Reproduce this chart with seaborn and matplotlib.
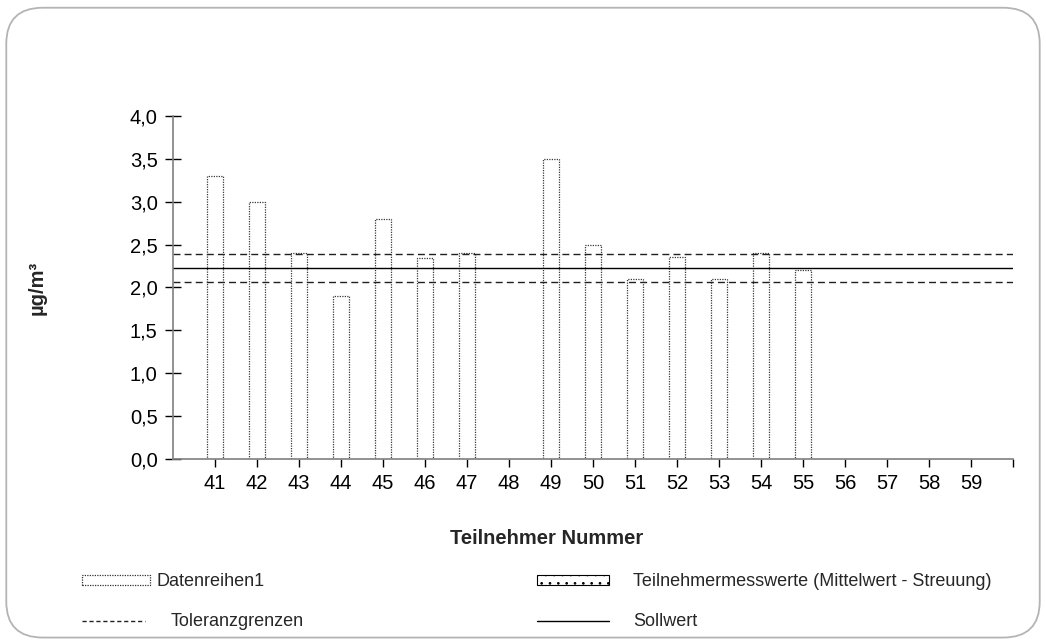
import matplotlib
matplotlib.use("Agg")
import matplotlib.pyplot as plt
from matplotlib.patches import FancyBboxPatch, Patch
from matplotlib.lines import Line2D
import numpy as np
import pandas as pd
import seaborn as sns

# Participant numbers and measured values (µg/m³); NaN = no value reported
participants = [str(n) for n in range(41, 60)]
values = [3.3, 3.0, 2.4, 1.9, 2.8, 2.34, 2.4, np.nan, 3.5, 2.5,
          2.1, 2.35, 2.1, 2.4, 2.2, np.nan, np.nan, np.nan, np.nan]
target_value = 2.225
tolerance_low = 2.06
tolerance_high = 2.395
y_ticks = [0.0, 0.5, 1.0, 1.5, 2.0, 2.5, 3.0, 3.5, 4.0]
y_tick_labels = ["0,0", "0,5", "1,0", "1,5", "2,0", "2,5", "3,0", "3,5", "4,0"]

sns.set_theme(style="white")
plt.rcParams["font.family"] = ["Liberation Sans", "DejaVu Sans"]
plt.rcParams["hatch.linewidth"] = 0.7

df = pd.DataFrame({"Teilnehmer": participants, "Wert": values})

fig = plt.figure(figsize=(10.46, 6.44), dpi=100)
ax = fig.add_axes([0.1654, 0.2873, 0.8031, 0.5326])

sns.barplot(data=df, x="Teilnehmer", y="Wert", order=participants,
            color="white", edgecolor="#383838", linewidth=0.9,
            width=0.4, ax=ax)
for bar in ax.patches:
    bar.set_linestyle((0, (1, 1)))
    bar.set_facecolor("white")

ax.axhline(target_value, color="black", lw=1.0)
ax.axhline(tolerance_high, color="#202020", lw=1.0, ls=(0, (5, 3)))
ax.axhline(tolerance_low, color="#202020", lw=1.0, ls=(0, (5, 3)))

ax.set_xlim(-1, 19)
ax.set_ylim(0, 4.0)
ax.set_xticks(range(20))
ax.set_xticklabels(participants + [""])
ax.set_yticks(y_ticks)
ax.set_yticklabels(y_tick_labels)

for side in ("top", "right"):
    ax.spines[side].set_visible(False)
for side in ("left", "bottom"):
    ax.spines[side].set_color("#7f7f7f")
    ax.spines[side].set_linewidth(1.2)

ax.tick_params(axis="both", labelsize=14.5, colors="black", width=1.0,
               bottom=True, left=True)
ax.tick_params(axis="x", direction="out", length=6, pad=5)
ax.tick_params(axis="y", direction="inout", length=12, pad=5)
for t in ax.xaxis.get_ticklines() + ax.yaxis.get_ticklines():
    t.set_color("#303030")

ax.set_xlabel("Teilnehmer Nummer", fontsize=14.5, fontweight="bold")
ax.set_ylabel("µg/m³", fontsize=14.5, fontweight="bold")
ax.xaxis.set_label_coords(0.445, -0.205)
ax.yaxis.set_label_coords(-0.15, 0.5)

# Legend entries, each placed on its own grid spot
h_data = Patch(facecolor="white", edgecolor="#303030", linestyle=(0, (1, 1)), lw=0.9)
h_tol = Line2D([], [], color="#202020", lw=1.0, ls=(0, (3, 2)))
h_part = Patch(facecolor="white", edgecolor="black", hatch="..", lw=0.8)
h_soll = Line2D([], [], color="black", lw=1.0)

entries = [
    (h_data, "Datenreihen1", 0.0784, 0.0963, 3.75, 0.4),
    (h_tol, "Toleranzgrenzen", 0.0784, 0.0342, 3.5, 1.4),
    (h_part, "Teilnehmermesswerte (Mittelwert - Streuung)", 0.5134, 0.0963, 4.0, 1.3),
    (h_soll, "Sollwert", 0.5134, 0.0342, 4.0, 1.3),
]
for handle, label, x, y, hl, pad in entries:
    fig.legend([handle], [label], loc="center left", bbox_to_anchor=(x, y),
               frameon=False, fontsize=13, handlelength=hl, handleheight=0.5,
               handletextpad=pad, borderpad=0, borderaxespad=0)

# Rounded frame around the whole chart
frame = FancyBboxPatch((0.006, 0.010), 0.988, 0.978,
                       boxstyle="round,pad=0,rounding_size=0.035",
                       transform=fig.transFigure, facecolor="none",
                       edgecolor="#b4b4b4", lw=1.3, mutation_aspect=1.6)
fig.patches.append(frame)

fig.savefig("out.png", dpi=100)
